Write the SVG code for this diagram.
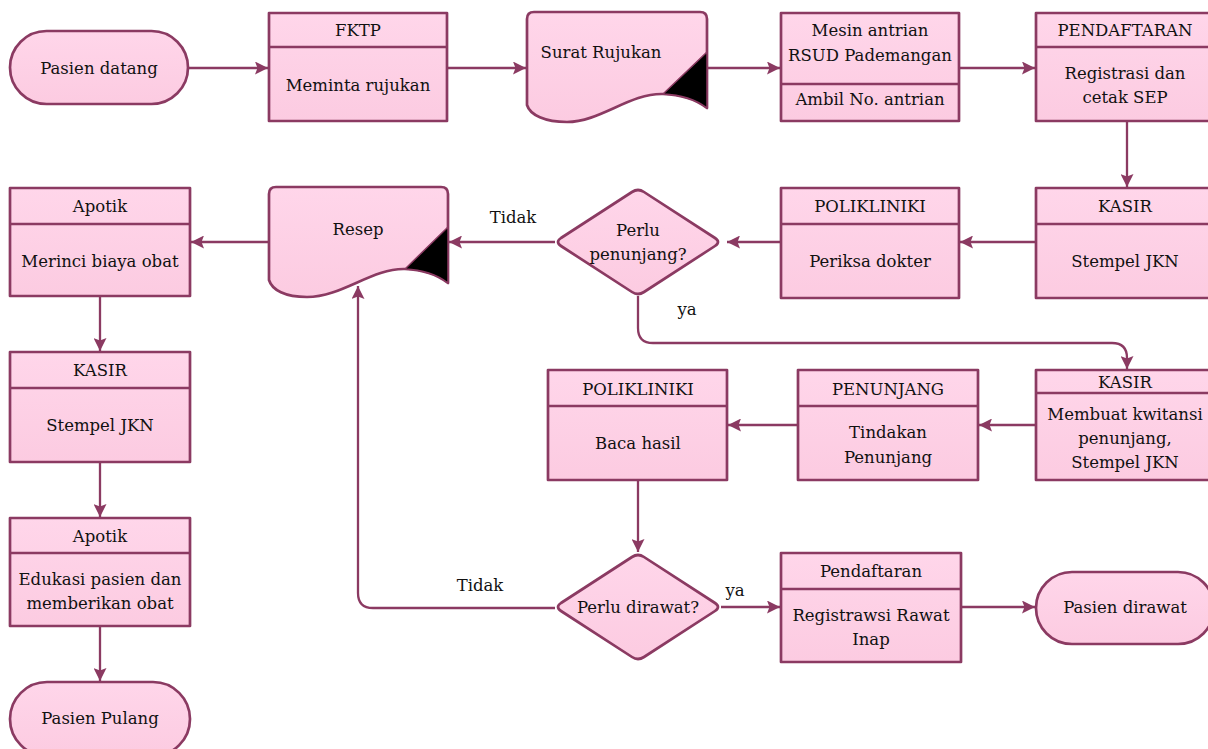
<svg xmlns="http://www.w3.org/2000/svg" width="1208" height="749" viewBox="0 0 1208 749">
<defs>
<linearGradient id="pk" x1="0" y1="0" x2="0" y2="1">
<stop offset="0" stop-color="#FFD6EA"/>
<stop offset="1" stop-color="#FCCBE1"/>
</linearGradient>
<marker id="ah" markerUnits="userSpaceOnUse" markerWidth="14" markerHeight="13" refX="13" refY="6.5" orient="auto">
<path d="M0,0 L13,6.5 L0,13 L2.5,6.5 Z" fill="#8B3A62"/>
</marker>
<style>
.s{fill:url(#pk);stroke:#8B3A62;stroke-width:2.7;stroke-linejoin:round}
.d{stroke:#8B3A62;stroke-width:2.7;fill:none}
.t{font-family:"DejaVu Serif","Liberation Serif",serif;font-size:16.5px;fill:#111;text-anchor:middle;dominant-baseline:central}
.c{fill:none;stroke:#8B3A62;stroke-width:2.3;marker-end:url(#ah)}
.tri{fill:#000;stroke:#8B3A62;stroke-width:1.5}
</style>
</defs>
<rect width="1208" height="749" fill="#fff"/>

<g id="connectors">
<line class="c" x1="188" y1="68" x2="268" y2="68"/>
<line class="c" x1="447" y1="68" x2="526" y2="68"/>
<line class="c" x1="707" y1="68" x2="780" y2="68"/>
<line class="c" x1="959" y1="68" x2="1035" y2="68"/>
<line class="c" x1="1127" y1="121" x2="1127" y2="187"/>
<line class="c" x1="1036" y1="242" x2="960" y2="242"/>
<line class="c" x1="781" y1="242" x2="727" y2="242"/>
<line class="c" x1="555" y1="242" x2="449" y2="242"/>
<line class="c" x1="269" y1="242" x2="191" y2="242"/>
<path class="c" d="M638,296 L638,328 Q638,343 653,343 L1112,343 Q1127,343 1127,358 L1127,369"/>
<line class="c" x1="1036" y1="425" x2="979" y2="425"/>
<line class="c" x1="798" y1="425" x2="728" y2="425"/>
<line class="c" x1="638" y1="480" x2="638" y2="552"/>
<line class="c" x1="721" y1="607" x2="780" y2="607"/>
<line class="c" x1="961" y1="607" x2="1035" y2="607"/>
<path class="c" d="M555,608 L373,608 Q358,608 358,593 L358,286"/>
<line class="c" x1="100" y1="296" x2="100" y2="351"/>
<line class="c" x1="100" y1="462" x2="100" y2="517"/>
<line class="c" x1="100" y1="626" x2="100" y2="681"/>
<text class="t" x="513" y="217">Tidak</text>
<text class="t" x="687" y="309">ya</text>
<text class="t" x="735" y="590">ya</text>
<text class="t" x="480" y="585">Tidak</text>
</g>

<g id="pasien-datang">
<rect class="s" x="10" y="31" width="178" height="73" rx="36.5"/>
<text class="t" x="99" y="68">Pasien datang</text>
</g>

<g id="fktp">
<rect class="s" x="269" y="13" width="178" height="108"/>
<line class="d" x1="269" y1="47" x2="447" y2="47"/>
<text class="t" x="358" y="30">FKTP</text>
<text class="t" x="358" y="85">Meminta rujukan</text>
</g>

<g id="surat-rujukan">
<path class="s" d="M527,19 Q527,12 534,12 L700,12 Q707,12 707,19 L707,108 Q690,95 663,94 C630,93 600,122 567,122 C545,122 530,115 527,105 Z"/>
<path class="tri" d="M707,52 L707,108 Q690,95 663,94 Z"/>
<text class="t" x="601" y="52">Surat Rujukan</text>
</g>

<g id="mesin-antrian">
<rect class="s" x="781" y="13" width="178" height="108"/>
<line class="d" x1="781" y1="84" x2="959" y2="84"/>
<text class="t" x="870" y="30">Mesin antrian</text>
<text class="t" x="870" y="55">RSUD Pademangan</text>
<text class="t" x="870" y="99">Ambil No. antrian</text>
</g>

<g id="pendaftaran">
<rect class="s" x="1036" y="13" width="178" height="108"/>
<line class="d" x1="1036" y1="47" x2="1214" y2="47"/>
<text class="t" x="1125" y="30">PENDAFTARAN</text>
<text class="t" x="1125" y="73">Registrasi dan</text>
<text class="t" x="1125" y="97">cetak SEP</text>
</g>

<g id="kasir-1">
<rect class="s" x="1036" y="188" width="178" height="110"/>
<line class="d" x1="1036" y1="224" x2="1214" y2="224"/>
<text class="t" x="1125" y="206">KASIR</text>
<text class="t" x="1125" y="261">Stempel JKN</text>
</g>

<g id="poliklinik-1">
<rect class="s" x="781" y="188" width="178" height="110"/>
<line class="d" x1="781" y1="224" x2="959" y2="224"/>
<text class="t" x="870" y="206">POLIKLINIKI</text>
<text class="t" x="870" y="261">Periksa dokter</text>
</g>

<g id="perlu-penunjang">
<path class="s" d="M561,238 L632,192 Q638,188 644,192 L715,238 Q721,242 715,246 L644,292 Q638,296 632,292 L561,246 Q555,242 561,238 Z"/>
<text class="t" x="638" y="230">Perlu</text>
<text class="t" x="638" y="254">penunjang?</text>
</g>

<g id="resep">
<path class="s" d="M269,194 Q269,187 276,187 L441,187 Q448,187 448,194 L448,283 Q431,270 405,269 C372,268 342,297 307,297 C285,297 272,290 269,280 Z"/>
<path class="tri" d="M448,227 L448,283 Q431,270 405,269 Z"/>
<text class="t" x="358" y="229">Resep</text>
</g>

<g id="apotik-1">
<rect class="s" x="10" y="188" width="180" height="108"/>
<line class="d" x1="10" y1="224" x2="190" y2="224"/>
<text class="t" x="100" y="206">Apotik</text>
<text class="t" x="100" y="261">Merinci biaya obat</text>
</g>

<g id="kasir-3">
<rect class="s" x="10" y="352" width="180" height="110"/>
<line class="d" x1="10" y1="388" x2="190" y2="388"/>
<text class="t" x="100" y="370">KASIR</text>
<text class="t" x="100" y="425">Stempel JKN</text>
</g>

<g id="apotik-2">
<rect class="s" x="10" y="518" width="180" height="108"/>
<line class="d" x1="10" y1="553" x2="190" y2="553"/>
<text class="t" x="100" y="536">Apotik</text>
<text class="t" x="100" y="579">Edukasi pasien dan</text>
<text class="t" x="100" y="603">memberikan obat</text>
</g>

<g id="pasien-pulang">
<rect class="s" x="10" y="682" width="180" height="74" rx="37"/>
<text class="t" x="100" y="718">Pasien Pulang</text>
</g>

<g id="kasir-2">
<rect class="s" x="1036" y="370" width="178" height="110"/>
<line class="d" x1="1036" y1="393" x2="1214" y2="393"/>
<text class="t" x="1125" y="382">KASIR</text>
<text class="t" x="1125" y="414">Membuat kwitansi</text>
<text class="t" x="1125" y="438">penunjang,</text>
<text class="t" x="1125" y="462">Stempel JKN</text>
</g>

<g id="penunjang">
<rect class="s" x="798" y="370" width="180" height="110"/>
<line class="d" x1="798" y1="406" x2="978" y2="406"/>
<text class="t" x="888" y="389">PENUNJANG</text>
<text class="t" x="888" y="432">Tindakan</text>
<text class="t" x="888" y="457">Penunjang</text>
</g>

<g id="poliklinik-2">
<rect class="s" x="548" y="370" width="179" height="110"/>
<line class="d" x1="548" y1="406" x2="727" y2="406"/>
<text class="t" x="638" y="389">POLIKLINIKI</text>
<text class="t" x="638" y="443">Baca hasil</text>
</g>

<g id="perlu-dirawat">
<path class="s" d="M561,603 L632,557 Q638,553 644,557 L715,603 Q721,607 715,611 L644,657 Q638,661 632,657 L561,611 Q555,607 561,603 Z"/>
<text class="t" x="638" y="607">Perlu dirawat?</text>
</g>

<g id="pendaftaran-2">
<rect class="s" x="781" y="553" width="180" height="109"/>
<line class="d" x1="781" y1="589" x2="961" y2="589"/>
<text class="t" x="871" y="571">Pendaftaran</text>
<text class="t" x="871" y="615">Registrawsi Rawat</text>
<text class="t" x="871" y="639">Inap</text>
</g>

<g id="pasien-dirawat">
<rect class="s" x="1036" y="572" width="178" height="72" rx="36"/>
<text class="t" x="1125" y="607">Pasien dirawat</text>
</g>
</svg>
